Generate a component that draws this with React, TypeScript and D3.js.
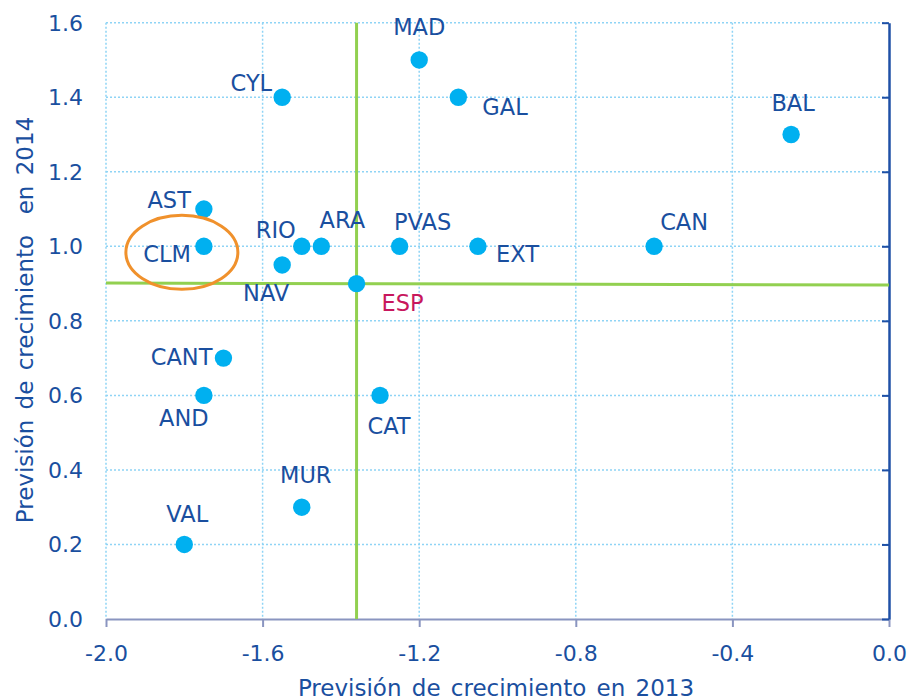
import React, { useEffect, useRef } from 'react';
import * as d3 from 'd3';

// regiones y previsiones (2013 en x, 2014 en y)
const regions = ['MAD', 'CYL', 'GAL', 'BAL', 'AST', 'CLM', 'RIO', 'ARA', 'NAV', 'PVAS', 'EXT', 'CAN', 'ESP', 'CANT', 'AND', 'CAT', 'MUR', 'VAL'];
const growth2013 = [-1.2, -1.55, -1.1, -0.25, -1.75, -1.75, -1.5, -1.45, -1.55, -1.25, -1.05, -0.6, -1.36, -1.7, -1.75, -1.3, -1.5, -1.8];
const growth2014 = [1.5, 1.4, 1.4, 1.3, 1.1, 1.0, 1.0, 1.0, 0.95, 1.0, 1.0, 1.0, 0.9, 0.7, 0.6, 0.6, 0.3, 0.2];

const xTicks = [-2.0, -1.6, -1.2, -0.8, -0.4, 0.0];
const yTicks = [0.0, 0.2, 0.4, 0.6, 0.8, 1.0, 1.2, 1.4, 1.6];

// label offsets from the dot, in px
const labelOffsets: Record<string, [number, number, string]> = {
  MAD: [0, -33, 'middle'],
  CYL: [-10, -14, 'end'],
  GAL: [24, 10, 'start'],
  BAL: [2, -32, 'middle'],
  AST: [-13, -9, 'end'],
  CLM: [-13, 8, 'end'],
  RIO: [-26, -16, 'middle'],
  ARA: [21, -26, 'middle'],
  NAV: [-16, 28, 'middle'],
  PVAS: [23, -24, 'middle'],
  EXT: [18, 8, 'start'],
  CAN: [30, -24, 'middle'],
  ESP: [46, 19, 'middle'],
  CANT: [-11, -1, 'end'],
  AND: [-20, 23, 'middle'],
  CAT: [9, 31, 'middle'],
  MUR: [4, -32, 'middle'],
  VAL: [3, -31, 'middle'],
};

function Scatter() {
  const svgRef = useRef<SVGSVGElement>(null);

  useEffect(() => {
    const svg = d3.select(svgRef.current);
    svg.selectAll('*').remove();

    const left = 106;
    const right = 889;
    const top = 22.7;
    const bottom = 619;
    const font = '"DejaVu Sans", sans-serif';
    const textBlue = '#1a4f9f';

    const x = d3.scaleLinear().domain([-2, 0]).range([left, right]);
    const y = d3.scaleLinear().domain([0, 1.6]).range([bottom, top]);

    // dotted grid
    const grid = svg.append('g');
    grid
      .selectAll('line.v')
      .data(xTicks.filter((d) => d < 0))
      .enter()
      .append('line')
      .attr('x1', (d) => x(d))
      .attr('x2', (d) => x(d))
      .attr('y1', top)
      .attr('y2', bottom)
      .attr('stroke', '#8fd4f5')
      .attr('stroke-width', 1.5)
      .attr('stroke-dasharray', '2,2');
    grid
      .selectAll('line.h')
      .data(yTicks.filter((d) => d > 0))
      .enter()
      .append('line')
      .attr('x1', left)
      .attr('x2', right)
      .attr('y1', (d) => y(d))
      .attr('y2', (d) => y(d))
      .attr('stroke', '#8fd4f5')
      .attr('stroke-width', 1.5)
      .attr('stroke-dasharray', '2,2');

    // bottom axis
    const xAxis = svg
      .append('g')
      .attr('transform', 'translate(0,' + bottom + ')')
      .call(
        d3
          .axisBottom(x)
          .tickValues(xTicks)
          .tickSize(8)
          .tickSizeOuter(0)
          .tickFormat((d) => d3.format('.1f')(d as number).replace('−', '-'))
      );
    xAxis.select('.domain').attr('stroke', '#8a95c0').attr('stroke-width', 2);
    xAxis.selectAll('.tick line').attr('stroke', '#8a95c0').attr('stroke-width', 2);
    xAxis
      .selectAll('.tick text')
      .attr('y', 26)
      .attr('fill', textBlue)
      .style('font-family', font)
      .style('font-size', '22px');

    // vertical axis sits at x = 0 (right side), labels at left
    const yAxis = svg
      .append('g')
      .attr('transform', 'translate(' + right + ',0)')
      .call(d3.axisLeft(y).tickValues(yTicks).tickSize(7).tickSizeOuter(0).tickFormat(() => ''));
    yAxis.select('.domain').attr('stroke', '#1f50a6').attr('stroke-width', 2.5);
    yAxis.selectAll('.tick line').attr('stroke', '#1f50a6').attr('stroke-width', 2);

    svg
      .append('g')
      .selectAll('text')
      .data(yTicks)
      .enter()
      .append('text')
      .attr('x', 83)
      .attr('y', (d) => y(d))
      .attr('dy', '0.36em')
      .attr('text-anchor', 'end')
      .attr('fill', textBlue)
      .style('font-family', font)
      .style('font-size', '22px')
      .text((d) => d3.format('.1f')(d));

    // reference lines through ESP
    const espIdx = regions.indexOf('ESP');
    svg
      .append('line')
      .attr('x1', x(growth2013[espIdx]))
      .attr('x2', x(growth2013[espIdx]))
      .attr('y1', top)
      .attr('y2', bottom)
      .attr('stroke', '#92d050')
      .attr('stroke-width', 3);
    svg
      .append('line')
      .attr('x1', left)
      .attr('x2', right)
      .attr('y1', y(growth2014[espIdx]) - 0.5)
      .attr('y2', y(growth2014[espIdx]) + 1.5)
      .attr('stroke', '#92d050')
      .attr('stroke-width', 3);

    // points
    svg
      .append('g')
      .selectAll('circle')
      .data(regions)
      .enter()
      .append('circle')
      .attr('cx', (d, i) => x(growth2013[i]))
      .attr('cy', (d, i) => y(growth2014[i]))
      .attr('r', 8.7)
      .attr('fill', '#00b0f0');

    // labels
    svg
      .append('g')
      .selectAll('text')
      .data(regions)
      .enter()
      .append('text')
      .attr('x', (d, i) => x(growth2013[i]) + labelOffsets[d][0])
      .attr('y', (d, i) => y(growth2014[i]) + labelOffsets[d][1])
      .attr('dy', '0.36em')
      .attr('text-anchor', (d) => labelOffsets[d][2])
      .attr('fill', (d) => (d === 'ESP' ? '#c8175d' : textBlue))
      .style('font-family', font)
      .style('font-size', '22.5px')
      .text((d) => d);

    // highlight CLM
    const clm = regions.indexOf('CLM');
    svg
      .append('ellipse')
      .attr('cx', x(growth2013[clm]) - 22)
      .attr('cy', y(growth2014[clm]) + 6)
      .attr('rx', 56)
      .attr('ry', 37)
      .attr('fill', 'none')
      .attr('stroke', '#f0912c')
      .attr('stroke-width', 3);

    // axis titles
    svg
      .append('text')
      .attr('x', 496)
      .attr('y', 696)
      .attr('text-anchor', 'middle')
      .attr('fill', textBlue)
      .style('font-family', font)
      .style('font-size', '23px')
      .style('word-spacing', '3px')
      .text('Previsión de crecimiento en 2013');
    svg
      .append('text')
      .attr('transform', 'translate(33,320) rotate(-90)')
      .attr('text-anchor', 'middle')
      .attr('fill', textBlue)
      .style('font-family', font)
      .style('font-size', '23px')
      .style('white-space', 'pre')
      .style('word-spacing', '3px')
      .text('Previsión de crecimiento  en 2014');
  }, []);

  return (
    <div style={{ position: 'absolute', top: 0, left: 0, width: 913, height: 700, background: '#fff' }}>
      <svg ref={svgRef} width={913} height={700} style={{ display: 'block' }}></svg>
    </div>
  );
}

export default function App() {
  return <Scatter />;
}
